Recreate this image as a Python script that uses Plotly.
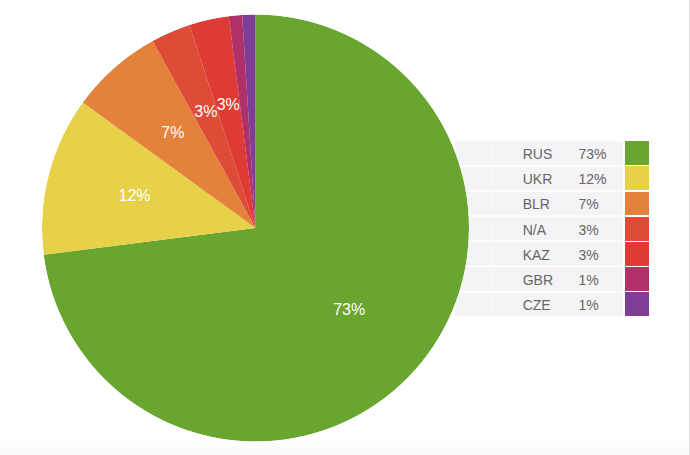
import plotly.graph_objects as go

countries = ["RUS", "UKR", "BLR", "N/A", "KAZ", "GBR", "CZE"]
shares = [73, 12, 7, 3, 3, 1, 1]
colors = ["#69a630", "#e6d149", "#e4823c", "#de4c38", "#dd3b33", "#b0306a", "#7e3e96"]

W, H = 690, 455
total = sum(shares)
pct_text = [f"{round(v * 100 / total)}%" for v in shares]
inside_text = [t if v / total >= 0.02 else "" for t, v in zip(pct_text, shares)]

# slice geometry in degrees (clockwise from 12 o'clock), derived from the data
widths = [v / total * 360 for v in shares]
centers = []
acc = 0.0
for w in widths:
    centers.append(acc + w / 2)
    acc += w

# pie placement (pixels)
cx, cy, r = 255.5, 228, 213.5
pie_domain = dict(x=[(cx - r) / W, (cx + r) / W], y=[1 - (cy + r) / H, 1 - (cy - r) / H])

fig = go.Figure()

# pie wedges
fig.add_trace(go.Barpolar(
    r=[1] * len(shares),
    theta=centers,
    width=widths,
    marker=dict(color=colors, line=dict(width=0)),
    text=countries,
    customdata=pct_text,
    hovertemplate="%{text}: %{customdata}<extra></extra>",
    showlegend=False,
))
# inside labels
fig.add_trace(go.Scatterpolar(
    r=[0.585] * len(shares),
    theta=centers,
    mode="text",
    text=inside_text,
    textposition="middle center",
    textfont=dict(family="Liberation Sans, Arial", size=16, color="white"),
    hoverinfo="skip",
    showlegend=False,
))

# legend table (header row used as the first entry)
tx0, tx1 = 455, 651
ty0 = 140.5
row_h = 25.2
n = len(countries)
col_px = [60, 56, 54, 26]
clear = "rgba(0,0,0,0)"
font = dict(family="Liberation Sans, Arial", size=14, color="#666666")
fig.add_trace(go.Table(
    domain=dict(x=[tx0 / W, tx1 / W], y=[1 - (ty0 + row_h * n + 2) / H, 1 - ty0 / H]),
    columnwidth=col_px,
    header=dict(
        values=["", countries[0], pct_text[0], ""],
        fill=dict(color=[clear, clear, clear, colors[0]]),
        line=dict(color=[clear, clear, clear, "white"], width=1.5),
        align="left",
        height=row_h,
        font=font,
    ),
    cells=dict(
        values=[[""] * (n - 1), countries[1:], pct_text[1:], [""] * (n - 1)],
        fill=dict(color=[[clear] * (n - 1), [clear] * (n - 1), [clear] * (n - 1), colors[1:]]),
        line=dict(color=[clear, clear, clear, "white"], width=1.5),
        align="left",
        height=row_h,
        font=font,
    ),
))

gray = "#f4f3f5"
shapes = []
for i in range(n):
    shapes.append(dict(
        type="rect", xref="paper", yref="paper",
        x0=tx0 / W, x1=625 / W,
        y0=1 - (ty0 + (i + 1) * row_h - 0.75) / H, y1=1 - (ty0 + i * row_h + 0.75) / H,
        fillcolor=gray, line=dict(width=0), layer="below"))
shapes.append(dict(type="line", xref="paper", yref="paper", x0=492 / W, x1=492 / W,
                   y0=1 - (ty0 + n * row_h) / H, y1=1 - ty0 / H,
                   line=dict(color="#fafafa", width=1), layer="below"))
shapes.append(dict(type="rect", xref="paper", yref="paper", x0=0, x1=1, y0=0, y1=14 / H,
                   fillcolor="#fcfcfc", line=dict(width=0), layer="below"))
shapes.append(dict(type="line", xref="paper", yref="paper", x0=689.5 / W, x1=689.5 / W, y0=0, y1=1,
                   line=dict(color="#dedede", width=1), layer="below"))

fig.update_layout(
    width=W, height=H,
    margin=dict(l=0, r=0, t=0, b=0),
    paper_bgcolor="white",
    plot_bgcolor="white",
    polar=dict(
        domain=pie_domain,
        bgcolor=clear,
        bargap=0,
        hole=0,
        angularaxis=dict(visible=False, rotation=90, direction="clockwise",
                         showgrid=False, showline=False, showticklabels=False, ticks=""),
        radialaxis=dict(visible=False, range=[0, 1], showgrid=False, showline=False,
                        showticklabels=False, ticks=""),
    ),
    shapes=shapes,
)

fig.write_html("out.html")
